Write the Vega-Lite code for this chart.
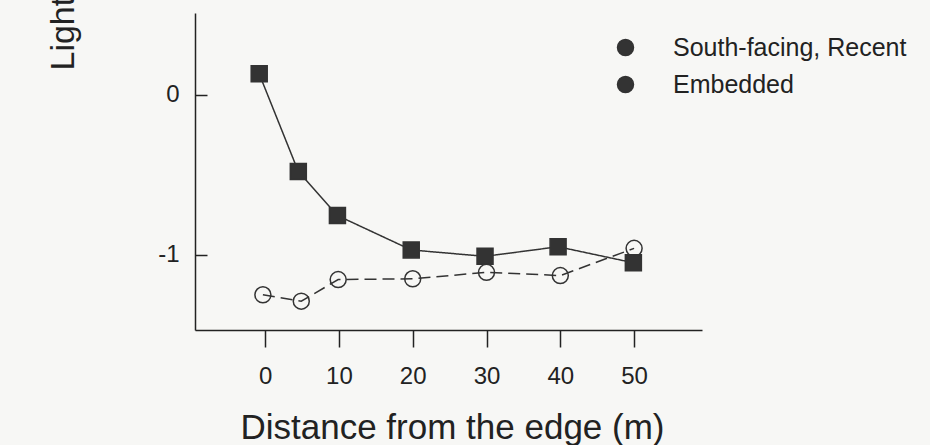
{
  "$schema": "https://vega.github.io/schema/vega-lite/v6.json",
  "autosize": {"type": "none"},
  "width": 507,
  "height": 317,
  "padding": {"left": 195, "top": 13, "right": 228, "bottom": 115},
  "background": "#f7f7f5",
  "config": {
    "view": {"stroke": null},
    "font": "Liberation Sans",
    "axis": {
      "grid": false,
      "domainColor": "#222222",
      "domainWidth": 1.5,
      "tickColor": "#222222",
      "tickWidth": 1.5,
      "labelColor": "#222222",
      "titleColor": "#222222",
      "labelFont": "Liberation Sans",
      "titleFont": "Liberation Sans",
      "labelFontSize": 24,
      "titleFontSize": 34,
      "titleFontWeight": "normal"
    }
  },
  "data": {
    "values": [
      {"series": "South-facing, Recent", "distance": -0.8, "light": 0.13},
      {"series": "South-facing, Recent", "distance": 4.5, "light": -0.48},
      {"series": "South-facing, Recent", "distance": 9.8, "light": -0.755},
      {"series": "South-facing, Recent", "distance": 19.8, "light": -0.97},
      {"series": "South-facing, Recent", "distance": 29.8, "light": -1.01},
      {"series": "South-facing, Recent", "distance": 39.7, "light": -0.95},
      {"series": "South-facing, Recent", "distance": 49.9, "light": -1.05},
      {"series": "Embedded", "distance": -0.3, "light": -1.25},
      {"series": "Embedded", "distance": 4.9, "light": -1.29},
      {"series": "Embedded", "distance": 9.9, "light": -1.155},
      {"series": "Embedded", "distance": 20, "light": -1.15},
      {"series": "Embedded", "distance": 30, "light": -1.11},
      {"series": "Embedded", "distance": 40, "light": -1.13},
      {"series": "Embedded", "distance": 50, "light": -0.96}
    ]
  },
  "encoding": {
    "x": {
      "field": "distance",
      "type": "quantitative",
      "scale": {"domain": [-9.5, 59.2], "nice": false, "zero": false},
      "axis": {
        "values": [0, 10, 20, 30, 40, 50],
        "title": "Distance from the edge (m)",
        "titleFontSize": 35,
        "tickSize": 17,
        "labelPadding": 36,
        "labelBaseline": "alphabetic",
        "labelFlush": false,
        "labelOverlap": false,
        "titleX": 257,
        "titleY": 108,
        "titleBaseline": "alphabetic"
      }
    },
    "y": {
      "field": "light",
      "type": "quantitative",
      "scale": {"domain": [-1.47, 0.51], "nice": false, "zero": false},
      "axis": {
        "values": [0, -1],
        "labelExpr": "datum.value + ''",
        "title": "Light intensity",
        "tickSize": -12,
        "labelPadding": 28,
        "labelFlush": false,
        "labelOverlap": false,
        "titleAngle": -90,
        "titleX": -122,
        "titleY": 57,
        "titleAlign": "left",
        "titleBaseline": "alphabetic"
      }
    }
  },
  "layer": [
    {
      "mark": {"type": "line", "color": "#333333", "strokeWidth": 1.5},
      "encoding": {
        "strokeDash": {
          "field": "series",
          "type": "nominal",
          "scale": {"domain": ["Embedded", "South-facing, Recent"], "range": [[12, 6], [1, 0]]},
          "legend": null
        }
      }
    },
    {
      "mark": {"type": "point", "filled": true, "size": 256, "stroke": "#333333", "strokeWidth": 1.5},
      "encoding": {
        "fill": {
          "condition": {"test": "datum.series === 'Embedded'", "value": "transparent"},
          "value": "#333333"
        },
        "shape": {
          "field": "series",
          "type": "nominal",
          "scale": {"domain": ["South-facing, Recent", "Embedded"], "range": ["square", "circle"]},
          "legend": null
        },
        "opacity": {
          "field": "series",
          "type": "ordinal",
          "sort": "descending",
          "scale": {"range": [1, 1]},
          "legend": {
            "title": null,
            "orient": "none",
            "legendX": 418,
            "legendY": 22,
            "padding": 0,
            "symbolSize": 256,
            "labelFontSize": 25,
            "labelFont": "Liberation Sans",
            "labelColor": "#222222",
            "labelLimit": 400,
            "labelOffset": 35,
            "rowPadding": 11,
            "encode": {
              "symbols": {
                "shape": {"value": {"expr": "datum.value === 'Embedded' ? 'M-4.06,0H-0.25M0,0H1.75M2.5,0H3M-2.5,0A1.125,1.125 0 1,0 -0.25,0A1.125,1.125 0 1,0 -2.5,0' : 'M-4.06,0H4.06M-1,-1H1V1H-1Z'"}},
                "fill": {"value": {"expr": "datum.value === 'Embedded' ? 'transparent' : '#333333'"}},
                "stroke": {"value": "#333333"},
                "strokeWidth": {"value": 1.5},
                "strokeDash": {"value": []}
              }
            }
          }
        }
      }
    }
  ]
}
